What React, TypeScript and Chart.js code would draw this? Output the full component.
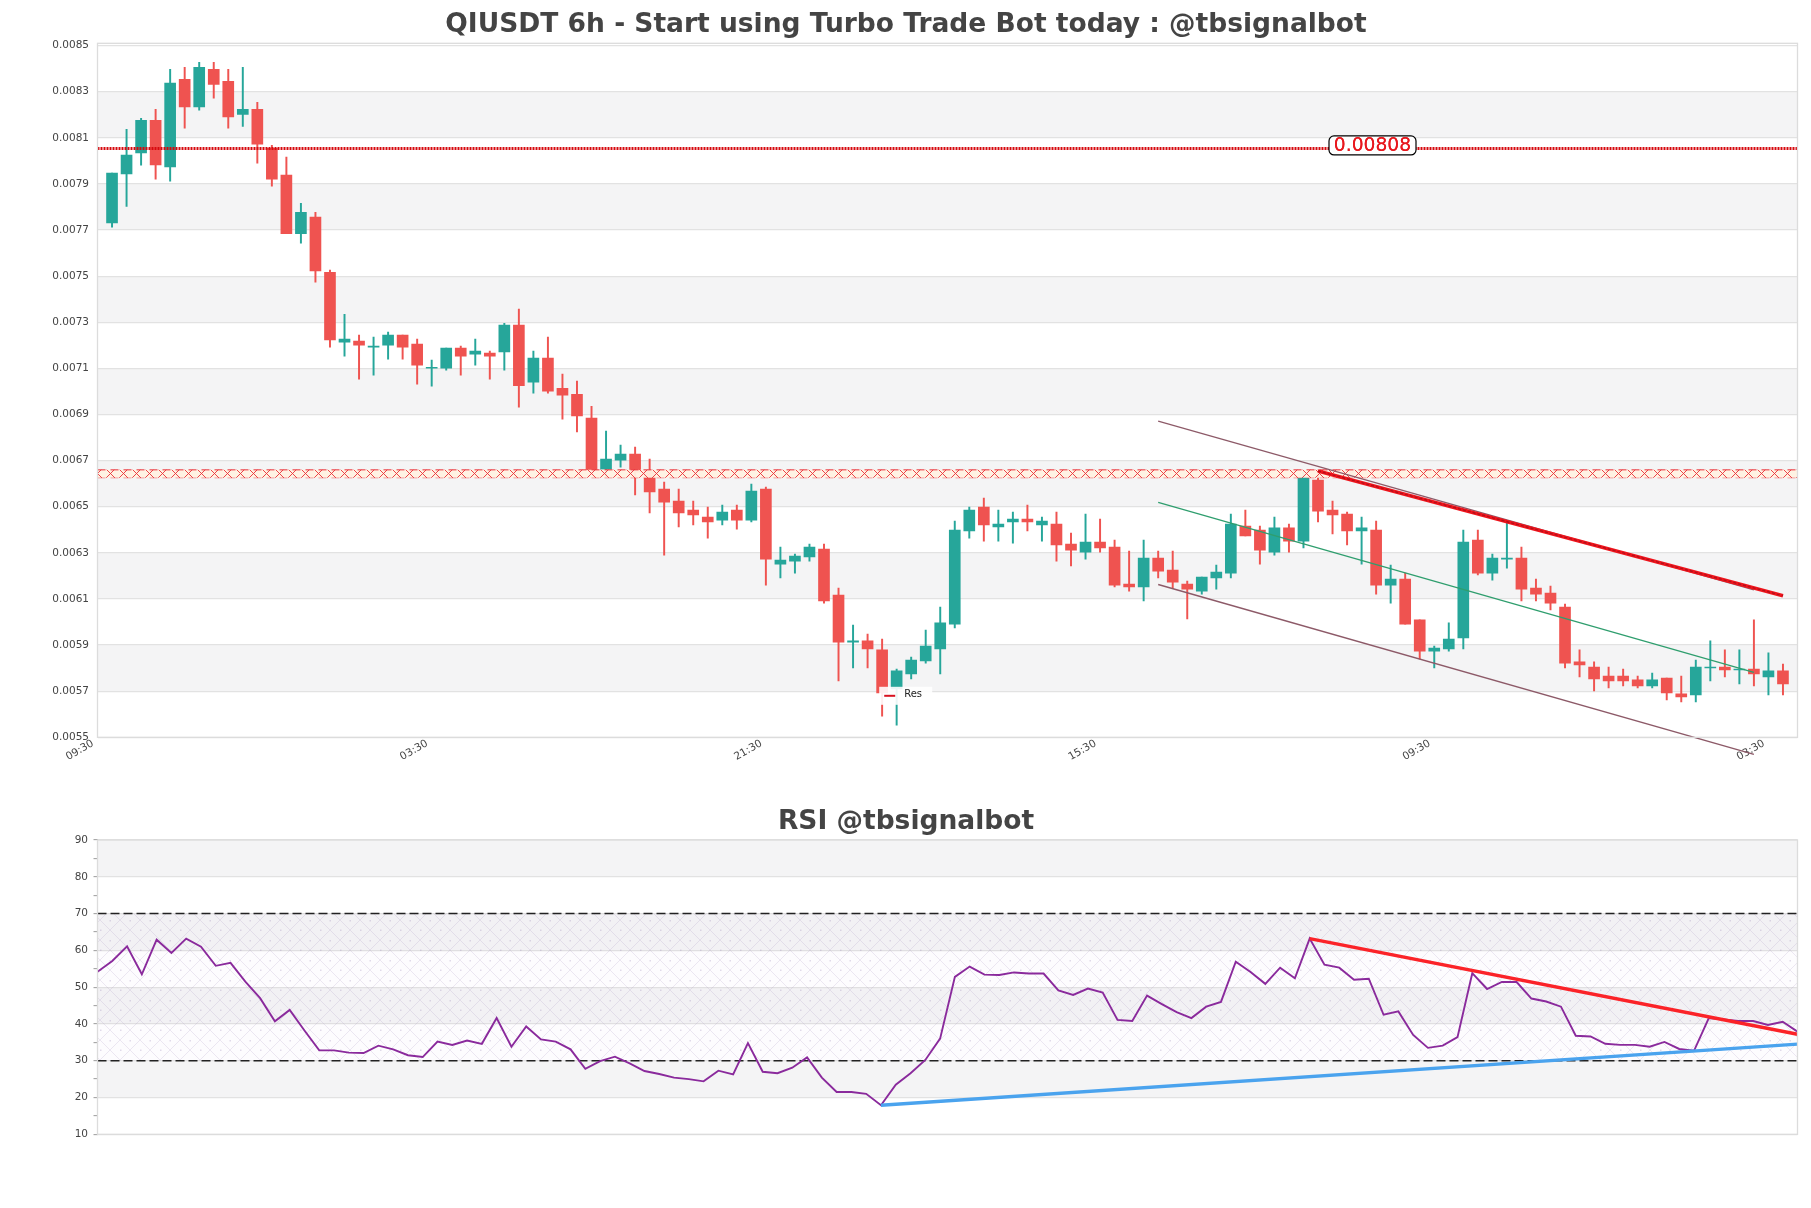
import { useEffect, useRef } from "react";
import { Chart, registerables } from "chart.js";

Chart.register(...registerables);

const FONT = "'DejaVu Sans'";
const UP = "#26a69a";
const DOWN = "#ef5350";
const GRID = "#e2e2e2";
const BAND = "#f4f4f5";
const FRAME = "#dcdcdc";
const TEXT = "#444444";

const opens = [
  0.007731, 0.007944, 0.008035, 0.008176, 0.007974, 0.008354, 0.008234, 0.008397, 0.008345, 0.008202, 0.008224, 0.008055,
  0.007938, 0.007684, 0.007756, 0.007517, 0.007214, 0.007218, 0.007192, 0.007201, 0.007244, 0.007205, 0.007101, 0.007101,
  0.007188, 0.007162, 0.007166, 0.007171, 0.007288, 0.00704, 0.007145, 0.007014, 0.006988, 0.006884, 0.006663, 0.006702,
  0.006728, 0.006656, 0.006577, 0.006525, 0.006486, 0.006455, 0.006442, 0.006486, 0.006442, 0.006577, 0.006251, 0.006264,
  0.006282, 0.006316, 0.006117, 0.005913, 0.005918, 0.005879, 0.00571, 0.005775, 0.005831, 0.005883, 0.005991, 0.006395,
  0.006499, 0.006412, 0.006434, 0.006447, 0.006421, 0.006425, 0.006338, 0.006303, 0.006347, 0.006325, 0.006165, 0.006152,
  0.006277, 0.006225, 0.006165, 0.006134, 0.006191, 0.006212, 0.006416, 0.006399, 0.006303, 0.006408, 0.006351, 0.006616,
  0.006486, 0.006468, 0.006395, 0.006399, 0.00616, 0.006186, 0.006009, 0.005874, 0.005883, 0.005931, 0.006355, 0.006212,
  0.006273, 0.006277, 0.006147, 0.006126, 0.006065, 0.005827, 0.005805, 0.005766, 0.005766, 0.005749, 0.005723, 0.005757,
  0.005688, 0.005684, 0.005801, 0.005805, 0.005792, 0.005796, 0.005762, 0.005788,
];
const highs = [
  0.007947, 0.008137, 0.008185, 0.008224, 0.008397, 0.008406, 0.008428, 0.008428, 0.008397, 0.008406, 0.008254, 0.008068,
  0.008016, 0.007816, 0.007777, 0.007526, 0.007335, 0.007244, 0.007236, 0.007257, 0.007244, 0.007227, 0.007136, 0.007188,
  0.007197, 0.007227, 0.007175, 0.007296, 0.007357, 0.007175, 0.007236, 0.007075, 0.007045, 0.006936, 0.006828, 0.006767,
  0.006759, 0.006707, 0.006607, 0.006577, 0.006525, 0.006499, 0.006507, 0.006507, 0.006598, 0.006585, 0.006325, 0.006295,
  0.006338, 0.006338, 0.006147, 0.005987, 0.005948, 0.005926, 0.005796, 0.005848, 0.005965, 0.006065, 0.006438, 0.006499,
  0.006538, 0.006486, 0.006477, 0.006507, 0.006455, 0.006477, 0.006386, 0.006468, 0.006447, 0.006355, 0.006308, 0.006355,
  0.006308, 0.006308, 0.006178, 0.006195, 0.006247, 0.006468, 0.006486, 0.006416, 0.006455, 0.006425, 0.006655, 0.006659,
  0.006525, 0.006477, 0.006455, 0.006438, 0.006247, 0.006212, 0.006009, 0.005896, 0.005996, 0.006399, 0.006399, 0.006295,
  0.006434, 0.006325, 0.006186, 0.006156, 0.006078, 0.005879, 0.005827, 0.005805, 0.005796, 0.005766, 0.005779, 0.005757,
  0.005766, 0.005835, 0.005918, 0.005879, 0.005879, 0.006009, 0.005866, 0.005818,
];
const lows = [
  0.007712, 0.007803, 0.007981, 0.007921, 0.007912, 0.008142, 0.00822, 0.008272, 0.008142, 0.00815, 0.00799, 0.00789,
  0.007684, 0.007643, 0.007474, 0.007192, 0.007153, 0.007053, 0.007071, 0.00714, 0.00714, 0.007032, 0.007023, 0.007092,
  0.007071, 0.007114, 0.007053, 0.007092, 0.006932, 0.006993, 0.006993, 0.00688, 0.006824, 0.006659, 0.00663, 0.006672,
  0.006551, 0.006473, 0.00629, 0.006412, 0.006421, 0.006364, 0.006421, 0.006403, 0.006434, 0.00616, 0.006191, 0.006212,
  0.006264, 0.006082, 0.005744, 0.005801, 0.005801, 0.005592, 0.005553, 0.005753, 0.005822, 0.005775, 0.005974, 0.006364,
  0.006351, 0.006351, 0.006342, 0.006395, 0.006351, 0.006264, 0.006243, 0.006273, 0.006303, 0.006152, 0.006134, 0.006091,
  0.006191, 0.006147, 0.006013, 0.006121, 0.006143, 0.006191, 0.006373, 0.006251, 0.00629, 0.006303, 0.006321, 0.006434,
  0.006382, 0.006334, 0.006251, 0.006121, 0.006082, 0.005991, 0.00584, 0.005801, 0.005874, 0.005883, 0.006204, 0.006182,
  0.006234, 0.006091, 0.006091, 0.006052, 0.005801, 0.005762, 0.005701, 0.005714, 0.005723, 0.005714, 0.005714, 0.005662,
  0.005653, 0.005653, 0.005744, 0.005762, 0.005731, 0.005723, 0.005684, 0.005684,
];
const closes = [
  0.007947, 0.008025, 0.008176, 0.007983, 0.008337, 0.008234, 0.008406, 0.008332, 0.008191, 0.008224, 0.008072, 0.007921,
  0.007684, 0.007777, 0.007523, 0.007223, 0.007227, 0.007201, 0.007197, 0.007244, 0.007192, 0.007114, 0.007105, 0.007188,
  0.007153, 0.007175, 0.007153, 0.007288, 0.007025, 0.007145, 0.007001, 0.006984, 0.006894, 0.006659, 0.006707, 0.006728,
  0.00665, 0.006564, 0.00652, 0.006473, 0.006464, 0.006434, 0.006477, 0.006442, 0.006568, 0.006273, 0.006269, 0.006286,
  0.006325, 0.006091, 0.005913, 0.005918, 0.005883, 0.005692, 0.005788, 0.005835, 0.005896, 0.005996, 0.006399, 0.006486,
  0.006421, 0.006425, 0.006447, 0.006434, 0.006438, 0.006334, 0.006312, 0.006347, 0.006321, 0.00616, 0.006152, 0.006277,
  0.006221, 0.006173, 0.006143, 0.006195, 0.006217, 0.006425, 0.006373, 0.006312, 0.006408, 0.006351, 0.006629, 0.006481,
  0.006464, 0.006395, 0.006408, 0.00616, 0.006186, 0.005991, 0.005874, 0.005887, 0.005926, 0.006347, 0.006212, 0.006277,
  0.006277, 0.006143, 0.006121, 0.006082, 0.005822, 0.005814, 0.005753, 0.005744, 0.005744, 0.005723, 0.005749, 0.005692,
  0.005675, 0.005805, 0.005805, 0.005792, 0.005796, 0.005775, 0.005788, 0.005731,
];

const rsiValues = [
  54.2, 57.1, 61.1, 53.5, 62.9, 59.3, 63.2, 61.0, 55.8, 56.6, 51.5, 47.0, 40.7, 43.8, 38.2, 32.8, 32.8, 32.2, 32.1, 34.1,
  33.1, 31.5, 31.0, 35.2, 34.3, 35.5, 34.6, 41.6, 33.8, 39.3, 35.8, 35.2, 33.1, 27.8, 29.9, 31.1, 29.3, 27.2, 26.4, 25.4,
  25.0, 24.4, 27.3, 26.3, 34.8, 27.0, 26.6, 28.1, 30.9, 25.4, 21.5, 21.5, 21.0, 17.9, 23.5, 26.6, 30.2, 36.0, 52.8, 55.6,
  53.4, 53.3, 54.0, 53.7, 53.7, 49.1, 47.9, 49.6, 48.5, 41.1, 40.8, 47.7, 45.4, 43.2, 41.6, 44.7, 46.0, 56.9, 54.1, 50.9,
  55.3, 52.4, 63.2, 56.1, 55.3, 52.0, 52.3, 42.5, 43.4, 37.0, 33.5, 34.1, 36.4, 53.8, 49.5, 51.4, 51.4, 46.9, 46.1, 44.7,
  36.8, 36.6, 34.6, 34.3, 34.3, 33.8, 35.1, 33.2, 32.7, 41.6, 41.2, 40.8, 40.8, 39.7, 40.6, 37.9,
];

const priceTicks = [0.0055, 0.0057, 0.0059, 0.0061, 0.0063, 0.0065, 0.0067, 0.0069, 0.0071, 0.0073, 0.0075, 0.0077, 0.0079, 0.0081, 0.0083, 0.0085];
const priceBands = [[0.0081, 0.0083], [0.0077, 0.0079], [0.0073, 0.0075], [0.0069, 0.0071], [0.0065, 0.0067], [0.0061, 0.0063], [0.0057, 0.0059]];
const timeTickPositions = [-1, 22, 45, 68, 91, 114];
const timeTickLabels = ["09:30", "03:30", "21:30", "15:30", "09:30", "03:30"];
const rsiBands = [[80, 90], [60, 70], [40, 50], [20, 30]];

const resistanceLevel = 0.008054;
const resistanceLabel = "0.00808";
const resistanceLabelAt = 86.75;
const zoneHigh = 0.00666;
const zoneLow = 0.006626;

// [index, price] ends of the drawn lines
const channelUpper = [[72, 0.006871], [113, 0.006139]];
const channelMiddle = [[72, 0.006519], [113, 0.005782]];
const channelLower = [[72, 0.006163], [113, 0.005426]];
const priceTrend = [[83, 0.006655], [115, 0.006114]];
const rsiFallingTrend = [[82, 63.2], [115, 37.2]];
const rsiRisingTrend = [[53, 17.9], [115, 34.5]];

const xy = (pts: number[][]) => pts.map(([x, y]) => ({ x, y }));

function zonePattern() {
  const c = document.createElement("canvas");
  c.width = 13;
  c.height = 9;
  const g = c.getContext("2d")!;
  g.fillStyle = "rgba(255,241,226,0.95)";
  g.fillRect(0, 0, 13, 9);
  g.strokeStyle = "#ea3038";
  g.lineWidth = 0.9;
  g.beginPath();
  g.moveTo(2, 0);
  g.lineTo(11, 9);
  g.moveTo(11, 0);
  g.lineTo(2, 9);
  g.stroke();
  const p = g.createPattern(c, "repeat")!;
  p.setTransform(new DOMMatrix().translate(0, 469));
  return p;
}

function rsiPattern() {
  const c = document.createElement("canvas");
  c.width = 20;
  c.height = 20;
  const g = c.getContext("2d")!;
  g.fillStyle = "rgba(170,130,200,0.025)";
  g.fillRect(0, 0, 20, 20);
  g.strokeStyle = "rgba(160,140,190,0.26)";
  g.lineWidth = 0.8;
  g.beginPath();
  g.moveTo(0, 0);
  g.lineTo(20, 20);
  g.moveTo(20, 0);
  g.lineTo(0, 20);
  g.stroke();
  g.fillStyle = "rgba(160,140,190,0.3)";
  g.fillRect(9.5, 0, 1.5, 1.5);
  g.fillRect(0, 9.5, 1.5, 1.5);
  return g.createPattern(c, "repeat")!;
}

// grey stripes under the grid, and the box round the plot
const bandsPlugin = (bands: number[][]) => ({
  id: "bands",
  beforeDraw(chart: any) {
    const { ctx, chartArea, scales } = chart;
    ctx.save();
    ctx.fillStyle = BAND;
    bands.forEach(([lo, hi]) => {
      const top = scales.y.getPixelForValue(hi);
      ctx.fillRect(chartArea.left, top, chartArea.width, scales.y.getPixelForValue(lo) - top);
    });
    ctx.restore();
  },
  afterDatasetsDraw(chart: any) {
    const { ctx, chartArea } = chart;
    ctx.save();
    ctx.strokeStyle = FRAME;
    ctx.lineWidth = 1.3;
    ctx.strokeRect(chartArea.left, chartArea.top, chartArea.width, chartArea.height);
    ctx.restore();
  },
});

const annotationsPlugin = {
  id: "annotations",
  afterDraw(chart: any) {
    const { ctx, scales } = chart;
    ctx.save();

    // price label on the resistance line
    const cx = scales.x.getPixelForValue(resistanceLabelAt);
    const cy = scales.y.getPixelForValue(resistanceLevel) - 3;
    ctx.beginPath();
    ctx.roundRect(cx - 43.5, cy - 9.5, 87, 19, 5);
    ctx.fillStyle = "#ffffff";
    ctx.fill();
    ctx.strokeStyle = "#000000";
    ctx.lineWidth = 1.2;
    ctx.stroke();
    ctx.fillStyle = "#e8181e";
    ctx.font = `18.7px ${FONT}`;
    ctx.textAlign = "center";
    ctx.textBaseline = "middle";
    ctx.fillText(resistanceLabel, cx, cy + 0.5);
    ctx.fillText(resistanceLabel, cx, cy + 0.5);

    // small legend
    const lx = scales.x.getPixelForValue(52.8);
    const ly = scales.y.getPixelForValue(0.00568);
    ctx.fillStyle = "rgba(255,255,255,0.9)";
    ctx.fillRect(lx, ly - 9, 53, 18);
    ctx.strokeStyle = "#d8121f";
    ctx.lineWidth = 2;
    ctx.beginPath();
    ctx.moveTo(lx + 5, ly);
    ctx.lineTo(lx + 16, ly);
    ctx.stroke();
    ctx.fillStyle = "#222222";
    ctx.font = `10px ${FONT}`;
    ctx.textAlign = "left";
    ctx.fillText("Res", lx + 25, ly - 1);

    ctx.restore();
  },
};

function PriceChart() {
  const canvasRef = useRef<HTMLCanvasElement>(null);

  useEffect(() => {
    if (!canvasRef.current) return;
    const wickColors = opens.map((o, i) => (closes[i] >= o ? UP : DOWN));

    const lineSet = (label: string, pts: number[][], color: string, width: number, extra = {}) => ({
      type: "line" as const,
      label,
      data: xy(pts),
      borderColor: color,
      borderWidth: width,
      pointRadius: 0,
      order: 1,
      ...extra,
    });

    const chart = new Chart(canvasRef.current, {
      data: {
        datasets: [
          lineSet("Res", [[-1, resistanceLevel], [116, resistanceLevel]], "#d60a0f", 3, { borderDash: [2, 1], order: 0 }),
          lineSet("Zone", [[-1, zoneHigh], [116, zoneHigh]], "#ea3038", 1, {
            borderDash: [8, 5],
            fill: { target: { value: zoneLow } },
            backgroundColor: zonePattern(),
            order: 2,
          }),
          lineSet("Zone low", [[-1, zoneLow], [116, zoneLow]], "#ea3038", 1, { borderDash: [8, 5], order: 2 }),
          lineSet("Upper", channelUpper, "#8d5a68", 1.3),
          lineSet("Middle", channelMiddle, "#2f9e6e", 1.3),
          lineSet("Lower", channelLower, "#8d5a68", 1.5, { clip: false }),
          lineSet("Trend shade", priceTrend, "#b5101a", 1.4, { borderDash: [3, 2], order: -1 }),
          lineSet("Trend", priceTrend, "#f0141c", 3.6, { order: 0 }),
          {
            type: "bar" as const,
            label: "Wick",
            data: opens.map((_, i) => ({ x: i, y: [lows[i], highs[i]] })),
            backgroundColor: wickColors,
            barThickness: 1.3,
            grouped: false,
            order: 4,
          },
          {
            type: "bar" as const,
            label: "Body",
            data: opens.map((o, i) => ({ x: i, y: [o, closes[i]] })),
            backgroundColor: wickColors,
            barThickness: 11,
            grouped: false,
            order: 3,
          },
        ],
      } as any,
      options: {
        animation: false,
        responsive: false,
        layout: { padding: { left: 14.5, right: 13.5, top: 0, bottom: 0 } },
        plugins: {
          legend: { display: false },
          tooltip: { enabled: false },
          title: {
            display: true,
            text: "QIUSDT 6h - Start using Turbo Trade Bot today : @tbsignalbot",
            color: TEXT,
            font: { family: FONT, size: 26.5, weight: "bold" },
            padding: { top: 9.6, bottom: 1.9 },
          },
        },
        scales: {
          x: {
            type: "linear",
            min: -1,
            max: 116,
            offset: false,
            grid: { display: false },
            border: { display: false },
            afterFit: (s: any) => { s.height = 42.7; },
            afterBuildTicks: (s: any) => { s.ticks = timeTickPositions.map((value) => ({ value })); },
            ticks: {
              autoSkip: false,
              minRotation: 30,
              maxRotation: 30,
              padding: -8,
              labelOffset: -4.5,
              color: TEXT,
              font: { family: FONT, size: 10.5 },
              callback: (v: any) => timeTickLabels[timeTickPositions.indexOf(v)],
            },
          },
          y: {
            min: 0.0055,
            max: 0.00851,
            grid: { color: GRID, lineWidth: 1.3, drawTicks: false },
            border: { display: false },
            afterFit: (s: any) => { s.width = 83; },
            afterBuildTicks: (s: any) => { s.ticks = priceTicks.map((value) => ({ value })); },
            ticks: {
              autoSkip: false,
              padding: 8.5,
              color: TEXT,
              font: { family: FONT, size: 10.5 },
              callback: (v: any) => Number(v).toFixed(4),
            },
          },
        },
      } as any,
      plugins: [bandsPlugin(priceBands), annotationsPlugin],
    });

    return () => chart.destroy();
  }, []);

  return <canvas ref={canvasRef} width={1811} height={780} style={{ position: "absolute", left: 0, top: 0 }} />;
}

function RsiChart() {
  const canvasRef = useRef<HTMLCanvasElement>(null);

  useEffect(() => {
    if (!canvasRef.current) return;
    const last = rsiValues.length - 1;

    const chart = new Chart(canvasRef.current, {
      type: "line",
      data: {
        datasets: [
          { label: "Falling", data: xy(rsiFallingTrend), borderColor: "#fb2328", borderWidth: 3.4, pointRadius: 0, order: 0 },
          { label: "Rising", data: xy(rsiRisingTrend), borderColor: "#4aa3ee", borderWidth: 3.4, pointRadius: 0, order: 1 },
          {
            label: "RSI",
            data: rsiValues.map((y, x) => ({ x, y })),
            borderColor: "#8a2a9c",
            borderWidth: 1.9,
            pointRadius: 0,
            order: 2,
          },
          { label: "70", data: xy([[0, 70], [last, 70]]), borderColor: "#222222", borderWidth: 1.5, borderDash: [9, 4], pointRadius: 0, order: 3 },
          { label: "30", data: xy([[0, 30], [last, 30]]), borderColor: "#222222", borderWidth: 1.5, borderDash: [9, 4], pointRadius: 0, order: 3 },
          {
            label: "Hatch",
            data: xy([[0, 70], [last, 70]]),
            borderWidth: 0,
            pointRadius: 0,
            fill: { target: { value: 30 } },
            backgroundColor: rsiPattern(),
            order: 4,
          },
        ],
      } as any,
      options: {
        animation: false,
        responsive: false,
        layout: { padding: { left: 14.5, right: 13.5, top: 0, bottom: 73.7 } },
        plugins: {
          legend: { display: false },
          tooltip: { enabled: false },
          title: {
            display: true,
            text: "RSI @tbsignalbot",
            color: TEXT,
            font: { family: FONT, size: 26.5, weight: "bold" },
            padding: { top: 26, bottom: 2.2 },
          },
        },
        scales: {
          x: { type: "linear", min: 0, max: last, display: false },
          y: {
            min: 10,
            max: 90,
            border: { display: false },
            afterFit: (s: any) => { s.width = 83; },
            grid: {
              color: (c: any) => (c.tick.value % 10 === 0 ? GRID : "transparent"),
              lineWidth: 1.3,
              tickLength: 4,
              tickColor: "#9a9a9a",
              tickWidth: 1,
            },
            ticks: {
              stepSize: 5,
              autoSkip: false,
              padding: 5.5,
              color: TEXT,
              font: { family: FONT, size: 10.5 },
              callback: (v: any) => (Number(v) % 10 === 0 ? String(v) : ""),
            },
          },
        },
      } as any,
      plugins: [bandsPlugin(rsiBands)],
    });

    return () => chart.destroy();
  }, []);

  return <canvas ref={canvasRef} width={1811} height={428} style={{ position: "absolute", left: 0, top: 780 }} />;
}

export default function App() {
  return (
    <div style={{ position: "absolute", left: 0, top: 0, width: 1811, height: 1208, background: "#ffffff", overflow: "hidden" }}>
      <PriceChart />
      <RsiChart />
    </div>
  );
}
